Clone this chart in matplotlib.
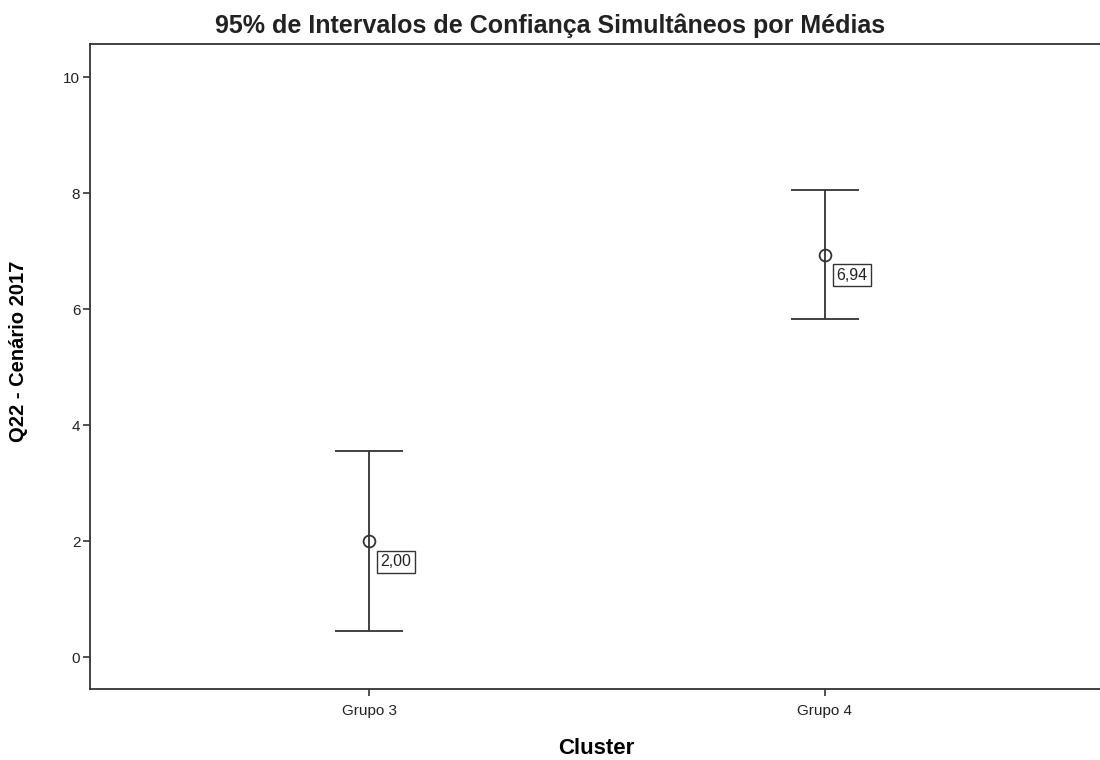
import numpy as np
import matplotlib
matplotlib.use('Agg')
import matplotlib.pyplot as plt

plt.rcParams['font.family'] = ['Liberation Sans', 'DejaVu Sans']

groups = ['Grupo 3', 'Grupo 4']
means = [2.00, 6.94]
lower = [0.45, 5.83]
upper = [3.56, 8.05]
mean_labels = ['2,00', '6,94']
yticks = [0, 2, 4, 6, 8, 10]

line_col = '#333333'

fig = plt.figure(figsize=(11.0, 7.6), dpi=100)
ax = fig.add_axes([0.0818, 0.0934, 0.921, 0.8486])

x = np.arange(len(groups))
means = np.array(means)
err = [means - np.array(lower), np.array(upper) - means]
ax.errorbar(x, means, yerr=err, fmt='o', color=line_col, ecolor=line_col,
            elinewidth=1.3, capsize=24.5, capthick=1.3,
            markersize=8.5, markerfacecolor='none', markeredgecolor=line_col,
            markeredgewidth=1.3)

for xi, m, lab in zip(x, means, mean_labels):
    ax.annotate(lab, (xi, m), xytext=(8, -15), textcoords='offset points',
                ha='left', va='center', fontsize=11.5, color='#222222',
                bbox=dict(boxstyle='square,pad=0.22', fc='white', ec=line_col, lw=1.0))

ax.set_xlim(-0.612, 1.61)
ax.set_ylim(-0.55, 10.57)
ax.set_xticks(x)
ax.set_xticklabels(groups)
ax.set_yticks(yticks)
ax.tick_params('both', labelsize=11, length=5, width=1.2, color=line_col, labelcolor='#222222')
ax.tick_params('y', pad=2)
ax.tick_params('x', pad=6)
for s in ax.spines.values():
    s.set_color(line_col)
    s.set_linewidth(1.3)

ax.set_xlabel('Cluster', fontsize=16, fontweight='bold', labelpad=14)
ax.set_ylabel('Q22 - Cenário 2017', fontsize=14.5, fontweight='bold')
ax.yaxis.set_label_coords(-0.061, 0.524)
fig.text(0.5, 0.966, '95% de Intervalos de Confiança Simultâneos por Médias',
         ha='center', va='center', fontsize=18, fontweight='bold', color='#222222')

plt.savefig('out.png', dpi=100)
